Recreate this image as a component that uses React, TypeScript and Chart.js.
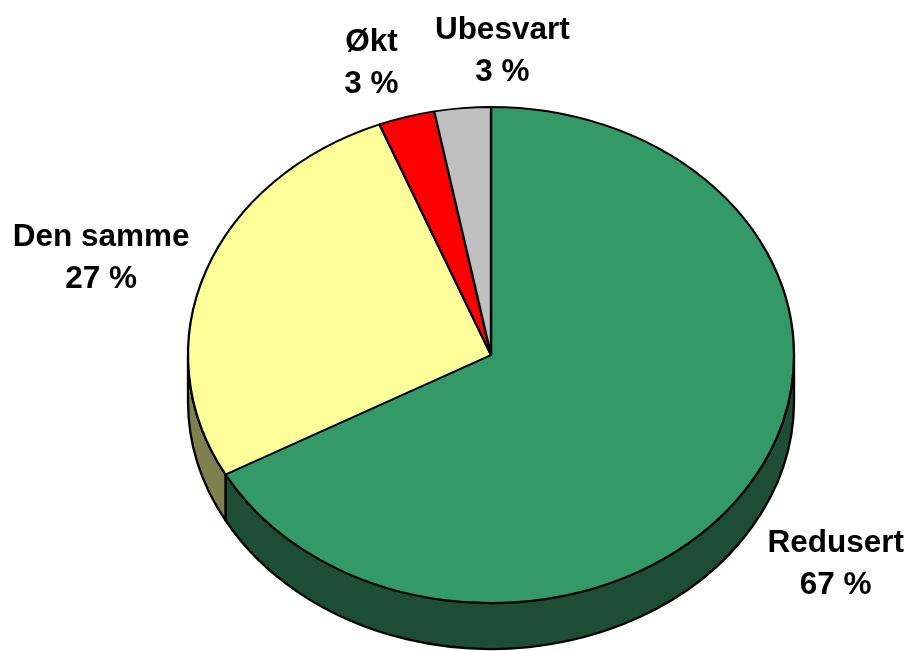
import { useEffect, useRef } from "react";
import { Chart, registerables } from "chart.js";

Chart.register(...registerables);

// ---- data ----
const categories = ["Redusert", "Den samme", "Økt", "Ubesvart"];
const percentValues = [67, 27, 3, 3];

// ---- styles ----
const topColors = ["#339966", "#FFFF99", "#FF0000", "#C0C0C0"];
const sideColors = ["#1E4D36", "#80804F", "#800000", "#606060"];
const labelNudge: [number, number][] = [
  [-1, 6],
  [7, 4],
  [-19, -2],
  [49, -3],
];

const W = 911;
const H = 651;
const PIE_RADIUS = 303;
const CENTER_Y = 355; // screen y of the top face centre
const TILT = 248 / 303; // vertical squash of the top face
const DEPTH = 46; // thickness of the pie
const FONT_SIZE = 31.5;
const FONT = `bold ${FONT_SIZE}px "Liberation Sans", Arial, sans-serif`;
const LINE_H = 42;

const pie3d = {
  id: "pie3d",
  beforeDatasetsDraw(chart: any) {
    const ctx: CanvasRenderingContext2D = chart.ctx;
    const arcs = chart.getDatasetMeta(0).data as any[];
    if (!arcs.length) return;
    ctx.save();
    ctx.lineWidth = 2.3;
    ctx.strokeStyle = "#000";
    ctx.lineJoin = "round";
    for (let i = 0; i < arcs.length; i++) {
      const p = arcs[i].getProps(["x", "outerRadius", "startAngle", "endAngle"], true);
      const a1 = Math.max(p.startAngle, 0);
      const a2 = Math.min(p.endAngle, Math.PI);
      if (a2 <= a1) continue;
      const rx = p.outerRadius;
      const ry = p.outerRadius * TILT;
      ctx.beginPath();
      ctx.ellipse(p.x, CENTER_Y, rx, ry, 0, a1, a2, false);
      ctx.lineTo(p.x + rx * Math.cos(a2), CENTER_Y + DEPTH + ry * Math.sin(a2));
      ctx.ellipse(p.x, CENTER_Y + DEPTH, rx, ry, 0, a2, a1, true);
      ctx.closePath();
      ctx.fillStyle = sideColors[i];
      ctx.fill();
      ctx.stroke();
    }
    ctx.restore();
    // squash the top face into an ellipse
    const cyChart = arcs[0].y;
    ctx.save();
    ctx.translate(0, CENTER_Y - cyChart * TILT);
    ctx.scale(1, TILT);
  },
  afterDatasetsDraw(chart: any) {
    const ctx: CanvasRenderingContext2D = chart.ctx;
    const arcs = chart.getDatasetMeta(0).data as any[];
    if (!arcs.length) return;
    ctx.restore();
    ctx.save();
    ctx.font = FONT;
    ctx.fillStyle = "#000";
    ctx.textAlign = "center";
    ctx.textBaseline = "alphabetic";
    for (let i = 0; i < arcs.length; i++) {
      const p = arcs[i].getProps(["x", "outerRadius", "startAngle", "endAngle"], true);
      const mid = (p.startAngle + p.endAngle) / 2;
      const c = Math.cos(mid);
      const s = Math.sin(mid);
      const lines = [categories[i], `${percentValues[i]} %`];
      const w = Math.max(...lines.map((t) => ctx.measureText(t).width));
      const halfH = LINE_H * 0.75;
      const px = p.x + (p.outerRadius * 1.1 + w / 2) * c + labelNudge[i][0];
      const py =
        CENTER_Y + (s > 0 ? DEPTH : 0) + (p.outerRadius * TILT * 1.1 + halfH) * s + labelNudge[i][1];
      lines.forEach((t, j) => {
        const lc = py + (j - (lines.length - 1) / 2) * LINE_H;
        ctx.fillText(t, px, lc + FONT_SIZE * 0.358);
      });
    }
    ctx.restore();
  },
};

export default function App() {
  const ref = useRef<HTMLCanvasElement | null>(null);
  useEffect(() => {
    document.body.style.margin = "0";
    if (!ref.current) return;
    const chart = new Chart(ref.current, {
      type: "pie",
      data: {
        labels: categories,
        datasets: [
          {
            data: percentValues,
            backgroundColor: topColors,
            borderColor: "#000",
            borderWidth: 2.3,
            hoverOffset: 0,
            radius: PIE_RADIUS,
            clip: false,
          } as any,
        ],
      },
      options: {
        responsive: false,
        animation: false,
        rotation: 0,
        layout: { padding: { left: 188, right: W - 188 - 2 * PIE_RADIUS, top: 0, bottom: 0 } },
        plugins: {
          legend: { display: false },
          tooltip: { enabled: false },
        },
        events: [],
      } as any,
      plugins: [pie3d],
    });
    return () => chart.destroy();
  }, []);
  return (
    <div style={{ width: W, height: H, background: "#fff" }}>
      <canvas ref={ref} width={W} height={H} style={{ display: "block" }} />
    </div>
  );
}
